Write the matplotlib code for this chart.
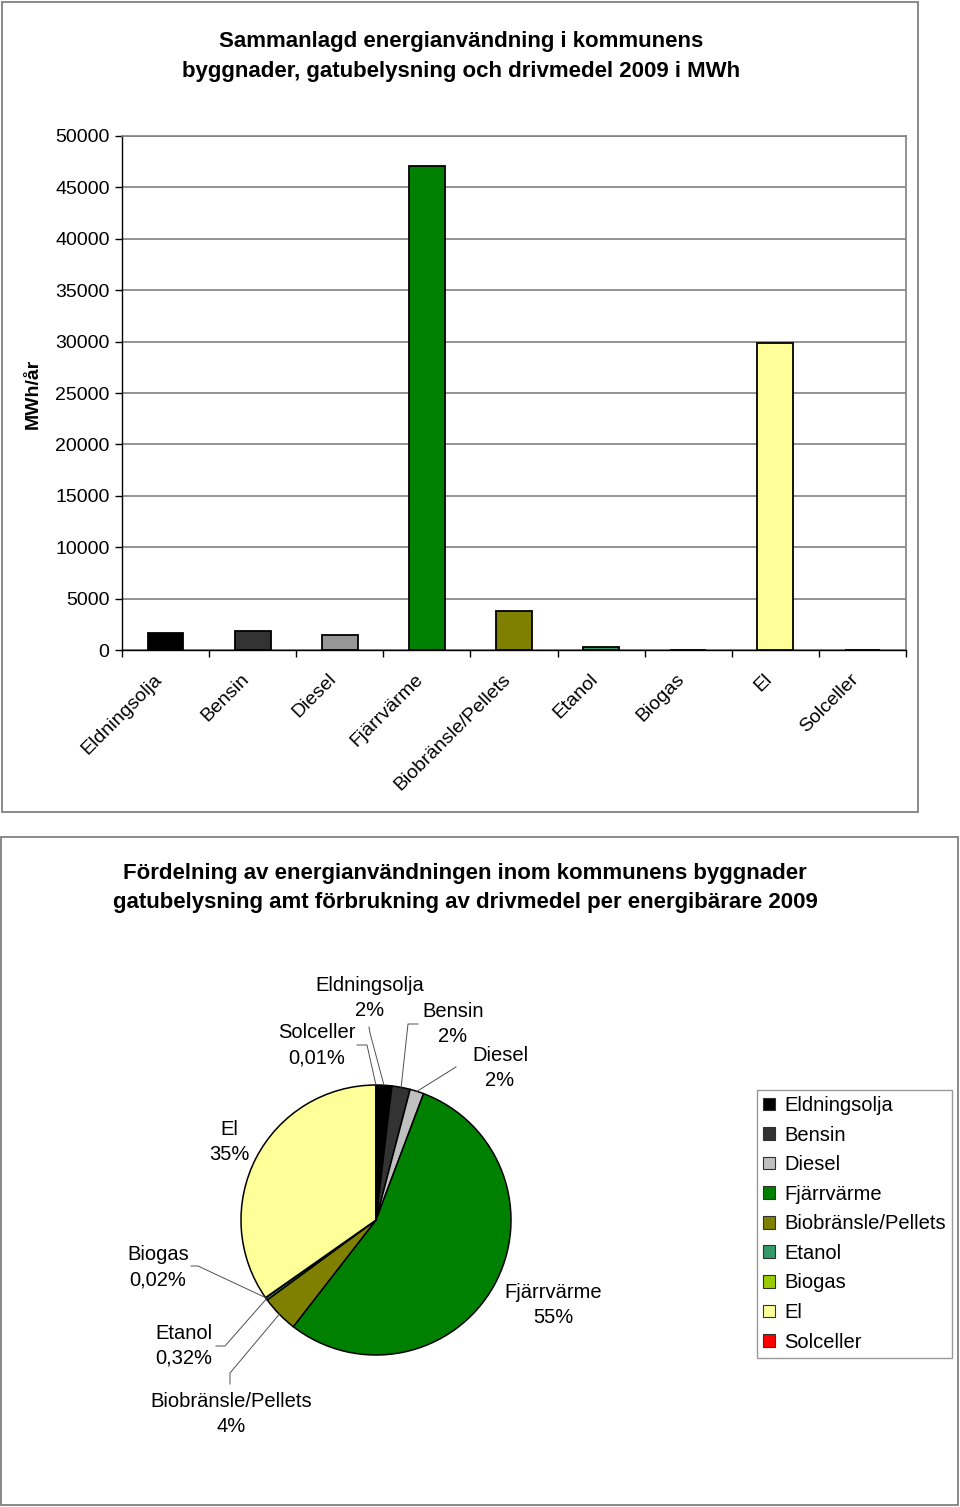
import numpy as np
import matplotlib
matplotlib.use("Agg")
import matplotlib.pyplot as plt
from matplotlib.patches import Rectangle, Patch
from matplotlib.transforms import ScaledTranslation

plt.rcParams['font.family'] = ['Liberation Sans', 'DejaVu Sans']

# ---------------- data ----------------
categories = ["Eldningsolja", "Bensin", "Diesel", "Fjärrvärme", "Biobränsle/Pellets",
              "Etanol", "Biogas", "El", "Solceller"]
values_mwh = [1620, 1880, 1430, 47080, 3800, 275, 17, 29860, 9]
bar_colors = ["#000000", "#333333", "#969696", "#008000", "#808000",
              "#339966", "#99CC00", "#FFFF99", "#FF0000"]
pie_colors = ["#000000", "#333333", "#C0C0C0", "#008000", "#808000",
              "#339966", "#99CC00", "#FFFF99", "#FF0000"]
y_ticks = [0, 5000, 10000, 15000, 20000, 25000, 30000, 35000, 40000, 45000, 50000]

title_bar = ["Sammanlagd energianvändning i kommunens",
             "byggnader, gatubelysning och drivmedel 2009 i MWh"]
title_pie = ["Fördelning av energianvändningen inom kommunens byggnader",
             "gatubelysning amt förbrukning av drivmedel per energibärare 2009"]
y_label = "MWh/år"

W, H = 960, 1507
fig = plt.figure(figsize=(W / 100, H / 100), dpi=100)
fig.patch.set_facecolor("white")

def fx(x):
    return x / W

def fy(y):
    return 1 - y / H

# panel borders
fig.add_artist(Rectangle((fx(2), fy(812)), fx(916), (810) / H, transform=fig.transFigure,
                         fill=False, edgecolor="#808080", lw=1.3))
fig.add_artist(Rectangle((fx(1), fy(1505)), fx(957), (668) / H, transform=fig.transFigure,
                         fill=False, edgecolor="#808080", lw=1.3))

# ---------------- bar chart ----------------
for i, t in enumerate(title_bar):
    fig.text(fx(461), fy(42 + 29 * i), t, ha="center", va="center",
             fontsize=16, fontweight="bold")

ax = fig.add_axes([fx(122), fy(650), fx(784), 514 / H])
x = np.arange(len(categories))
ax.bar(x, values_mwh, width=0.41, color=bar_colors, edgecolor="black", linewidth=1.3, zorder=3)
ax.set_xlim(-0.5, len(categories) - 0.5)
ax.set_ylim(y_ticks[0], y_ticks[-1])
ax.set_yticks(y_ticks)
ax.set_yticklabels([str(v) for v in y_ticks], fontsize=14)
ax.yaxis.grid(True, color="#808080", lw=1.2, zorder=0)
ax.set_axisbelow(True)
ax.tick_params(axis="y", length=5, width=1, direction="out", pad=4)
ax.set_xticks(x)
ax.set_xticklabels(categories, rotation=45, ha="right", rotation_mode="anchor", fontsize=14)
ax.tick_params(axis="x", which="major", length=0, pad=12)
offset = ScaledTranslation(-12 / 100, -4 / 100, fig.dpi_scale_trans)
for lab in ax.get_xticklabels():
    lab.set_transform(lab.get_transform() + offset)
ax.set_xticks(np.arange(-0.5, len(categories)), minor=True)
ax.tick_params(axis="x", which="minor", length=5, width=1, direction="out")
for s in ["left", "bottom"]:
    ax.spines[s].set_color("black")
    ax.spines[s].set_linewidth(1.0)
for s in ["top", "right"]:
    ax.spines[s].set_color("#808080")
    ax.spines[s].set_linewidth(1.2)
fig.text(fx(33), fy(394), y_label, rotation=90, ha="center", va="center",
         fontsize=14, fontweight="bold")

# ---------------- pie chart ----------------
for i, t in enumerate(title_pie):
    fig.text(fx(465), fy(873 + 29 * i), t, ha="center", va="center",
             fontsize=16, fontweight="bold")

PCX, PCY, PR = 376, 1220, 135
AX0, AX1, AY0, AY1 = 100, 652, 960, 1480
pax = fig.add_axes([fx(AX0), fy(AY1), (AX1 - AX0) / W, (AY1 - AY0) / H])
pax.axis("off")

wedges, _ = pax.pie(values_mwh, colors=pie_colors, startangle=90, counterclock=False,
                    radius=1, center=(0, 0), frame=False,
                    wedgeprops=dict(edgecolor="black", linewidth=1.1))
pax.set_xlim((AX0 - PCX) / PR, (AX1 - PCX) / PR)
pax.set_ylim((PCY - AY1) / PR, (PCY - AY0) / PR)
pax.set_aspect("auto")

def p2d(px, py):
    return ((px - PCX) / PR, (PCY - py) / PR)

total = float(sum(values_mwh))

def pct_label(v):
    p = v / total * 100
    if p >= 1:
        return f"{p:.0f}%"
    return f"{p:.2f}%".replace(".", ",")

# label layout: text centre (pixels) and leader-line elbow points (pixels)
label_layout = {
    "Eldningsolja": ((370, 998), [(369, 1027), (370, 1033)]),
    "Bensin": ((453, 1024), [(418, 1024), (408, 1024)]),
    "Diesel": ((500, 1068), [(456, 1067)]),
    "Fjärrvärme": ((553, 1305), None),
    "Biobränsle/Pellets": ((231, 1414), [(230, 1384), (230, 1373)]),
    "Etanol": ((184, 1346), [(216, 1346), (225, 1346)]),
    "Biogas": ((158, 1267), [(191, 1266), (198, 1266)]),
    "El": ((229, 1142), None),
    "Solceller": ((317, 1045), [(357, 1045), (367, 1045)]),
}

for w, cat, v in zip(wedges, categories, values_mwh):
    (tx, ty), elbows = label_layout[cat]
    dx, dy = p2d(tx, ty)
    pax.text(dx, dy, f"{cat}\n{pct_label(v)}", ha="center", va="center",
             fontsize=14.5, linespacing=1.4, clip_on=False)
    if elbows:
        mid = np.deg2rad((w.theta1 + w.theta2) / 2)
        ex, ey = np.cos(mid) * 1.0, np.sin(mid) * 1.0
        pts = [p2d(*e) for e in elbows] + [(ex, ey)]
        pax.plot([p[0] for p in pts], [p[1] for p in pts], color="#505050", lw=0.7,
                 clip_on=False, zorder=1)

handles = [Patch(facecolor=c, edgecolor="#303030", linewidth=0.8) for c in pie_colors]
leg = fig.legend(handles, categories, loc="upper left",
                 bbox_to_anchor=(fx(757), fy(1090)), bbox_transform=fig.transFigure,
                 fontsize=14.5, frameon=True, fancybox=False, borderaxespad=0,
                 handlelength=0.6, handleheight=0.6, handletextpad=0.45,
                 labelspacing=0.525, borderpad=0.3)
leg.get_frame().set_edgecolor("#808080")
leg.get_frame().set_linewidth(1.0)

fig.savefig("out.png", dpi=100, facecolor="white")
